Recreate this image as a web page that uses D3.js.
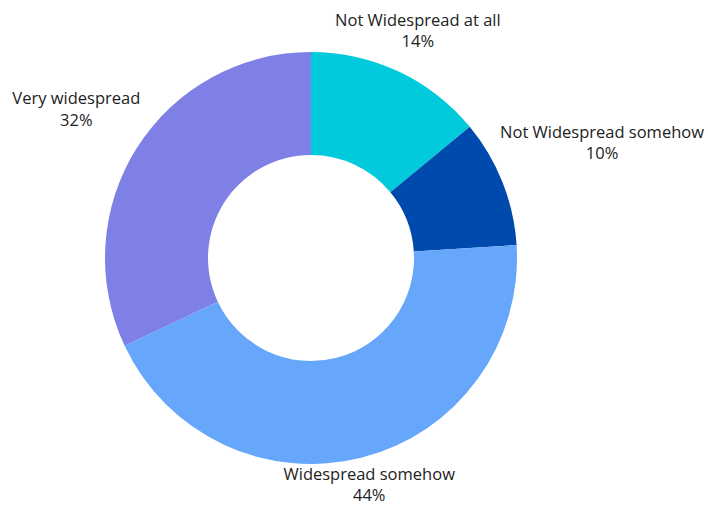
<!DOCTYPE html>
<html>
<head>
<meta charset="utf-8">
<script src="https://cdn.jsdelivr.net/npm/d3@7"></script>
<style>
  html, body { margin: 0; padding: 0; background: #fff; }
  svg { display: block; }
</style>
</head>
<body>
<svg id="chart" width="708" height="507"></svg>
<script>
// Survey answers, in clockwise order starting at 12 o'clock
const categories = ["Not Widespread at all", "Not Widespread somehow", "Widespread somehow", "Very widespread"];
const shares = [14, 10, 44, 32];
const palette = ["#00CADC", "#004AAD", "#66A6FB", "#7F80E6"];

const width = 708, height = 507;
const cx = 311, cy = 258;
const outerR = 206, innerR = 103;
// distance of each label block's centre from the donut centre, along the slice's mid-angle
const labelDist = [251, 313, 234, 278];

const svg = d3.select("#chart");
const g = svg.append("g").attr("transform", `translate(${cx},${cy})`);

const data = categories.map((c, i) => ({ name: c, value: shares[i], color: palette[i] }));

const pie = d3.pie().value(d => d.value).sort(null);
const arc = d3.arc().innerRadius(innerR).outerRadius(outerR);
const arcs = pie(data);

g.selectAll("path.slice")
  .data(arcs)
  .join("path")
  .attr("class", "slice")
  .attr("d", arc)
  .attr("fill", d => d.data.color);

const fmt = d => d3.format("d")(d) + "%";

const labels = g.selectAll("g.label")
  .data(arcs)
  .join("g")
  .attr("class", "label")
  .attr("transform", (d, i) => {
    const a = (d.startAngle + d.endAngle) / 2;
    const r = labelDist[i];
    return `translate(${r * Math.sin(a)},${-r * Math.cos(a)})`;
  });

labels.append("text")
  .attr("text-anchor", "middle")
  .attr("font-family", "'Open Sans', sans-serif")
  .attr("font-size", 16.5)
  .attr("fill", "#222")
  .attr("y", -5)
  .text(d => d.data.name);

labels.append("text")
  .attr("text-anchor", "middle")
  .attr("font-family", "'Open Sans', sans-serif")
  .attr("font-size", 16.5)
  .attr("fill", "#222")
  .attr("y", 16.5)
  .text(d => fmt(d.data.value));
</script>
</body>
</html>
